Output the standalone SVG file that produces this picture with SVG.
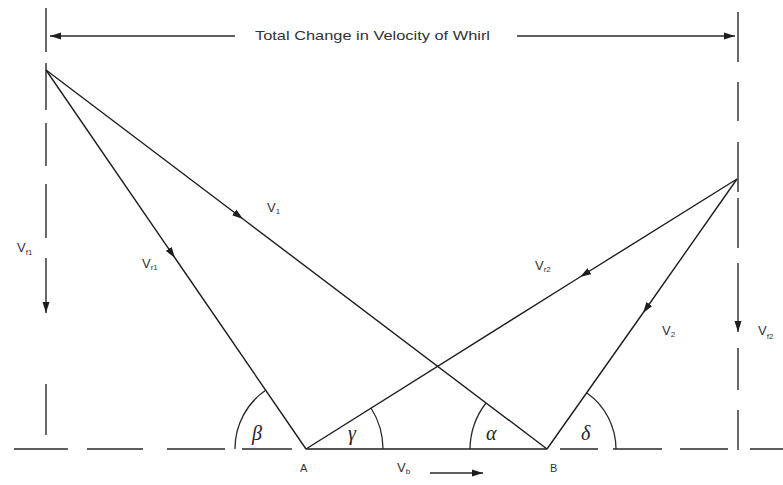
<svg xmlns="http://www.w3.org/2000/svg" width="783" height="485" viewBox="0 0 783 485">
<style>
.ln{stroke:#1e1e1e;stroke-width:1.4;fill:none}
.dl{stroke:#2a2a2a;stroke-width:1.4;fill:none}
.arc{stroke:#2a2a2a;stroke-width:1.3;fill:none}
.lbl{font-family:"Liberation Sans",Arial,sans-serif;font-size:13px;fill:#333}
.sub{font-size:8px}
.gr{font-family:"Liberation Serif","Times New Roman",serif;font-style:italic;font-size:20px;fill:#222}
.pt{font-family:"Liberation Sans",Arial,sans-serif;font-size:11px;fill:#333}
</style>
<defs>
<marker id="ah" markerUnits="userSpaceOnUse" markerWidth="12" markerHeight="8" refX="11" refY="4" orient="auto">
<path d="M0,0.5 L11,4 L0,7.5 z" fill="#1e1e1e"/>
</marker>
</defs>
<rect width="783" height="485" fill="#fff"/>
<g id="frame">
<!-- left vertical dashed reference -->
<path class="dl" d="M46,8 V52 M46,63 V110 M46,123 V166 M46,184 V238 M46,384 V435"/>
<path class="dl" d="M46,258 V313" marker-end="url(#ah)"/>
<!-- right vertical dashed reference -->
<path class="dl" d="M738,12 V62 M738,82 V121 M738,142 V192 M738,198 V248 M738,348 V390 M738,410 V450"/>
<path class="dl" d="M738,263 V332" marker-end="url(#ah)"/>
<!-- baseline -->
<path class="dl" d="M14,449 H68 M87,449 H143 M167,449 H225 M242,449 H292 M560,449 H598 M613,449 H662 M680,449 H728 M750,449 H783"/>
<path class="ln" d="M306,449 H547"/>
</g>
<g id="whirl">
<path class="dl" d="M235,36 H50" marker-end="url(#ah)"/>
<path class="dl" d="M517,36 H735" marker-end="url(#ah)"/>
<text class="lbl" x="255" y="40" textLength="235" lengthAdjust="spacingAndGlyphs">Total Change in Velocity of Whirl</text>
</g>
<g id="connectors">
<path id="v1" class="ln" d="M46,70 L243,219 L547,449" marker-mid="url(#ah)"/>
<path id="vr1" class="ln" d="M46,70 L175,258 L306,449" marker-mid="url(#ah)"/>
<path id="vr2" class="ln" d="M737,179 L580,277 L306,449" marker-mid="url(#ah)"/>
<path id="v2" class="ln" d="M737,179 L643,313 L547,449" marker-mid="url(#ah)"/>
</g>
<g id="angles">
<path class="arc" d="M266,390 A71,71 0 0 0 235,449"/>
<path class="arc" d="M371,408 A77,77 0 0 1 383,449"/>
<path class="arc" d="M486,403 A77,77 0 0 0 470,449"/>
<path class="arc" d="M587,393 A69,69 0 0 1 616,449"/>
<text class="gr" x="252" y="440">β</text>
<text class="gr" x="348" y="440">γ</text>
<text class="gr" x="486" y="440">α</text>
<text class="gr" x="581" y="440">δ</text>
</g>
<g id="labels">
<text class="lbl" x="17" y="252">V<tspan class="sub" dy="3">f1</tspan></text>
<text class="lbl" x="142" y="268">V<tspan class="sub" dy="2">r1</tspan></text>
<text class="lbl" x="267" y="212">V<tspan class="sub" dy="2">1</tspan></text>
<text class="lbl" x="535" y="270">V<tspan class="sub" dy="2">r2</tspan></text>
<text class="lbl" x="662" y="335">V<tspan class="sub" dy="2">2</tspan></text>
<text class="lbl" x="758" y="335">V<tspan class="sub" dy="4">f2</tspan></text>
<text class="pt" x="300" y="472">A</text>
<text class="pt" x="550" y="472">B</text>
<text class="lbl" x="397" y="472">V<tspan class="sub" dy="2">b</tspan></text>
<path class="dl" d="M430,473 H483" marker-end="url(#ah)"/>
</g>
</svg>
